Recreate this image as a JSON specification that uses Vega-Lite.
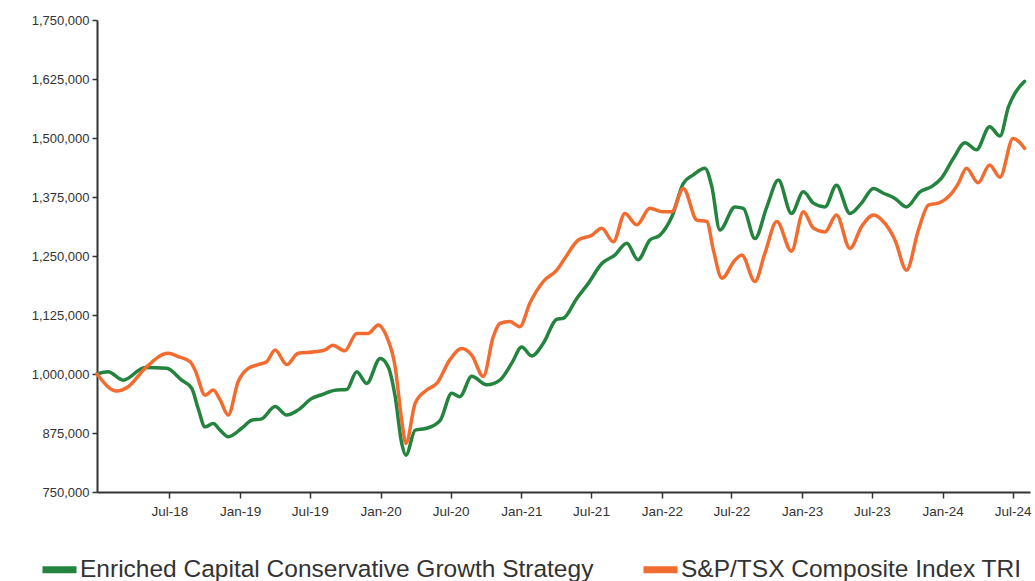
{
  "$schema": "https://vega.github.io/schema/vega-lite/v6.json",
  "width": 933,
  "height": 472,
  "autosize": {"type": "none"},
  "padding": {"left": 97, "top": 20, "right": 5, "bottom": 89},
  "background": "white",
  "config": {
    "view": {"stroke": null},
    "font": "Liberation Sans",
    "axis": {
      "domainColor": "#333333",
      "domainWidth": 2,
      "tickColor": "#333333",
      "tickWidth": 1.5,
      "tickSize": 6,
      "grid": false,
      "labelColor": "#333333",
      "labelFont": "Liberation Sans",
      "title": null
    }
  },
  "datasets": {
    "rows": [
      {"date": "2017-12-25", "series": "Enriched Capital Conservative Growth Strategy", "value": 1000000},
      {"date": "2018-01-23", "series": "Enriched Capital Conservative Growth Strategy", "value": 1005000},
      {"date": "2018-03-03", "series": "Enriched Capital Conservative Growth Strategy", "value": 987000},
      {"date": "2018-04-29", "series": "Enriched Capital Conservative Growth Strategy", "value": 1014000},
      {"date": "2018-06-24", "series": "Enriched Capital Conservative Growth Strategy", "value": 1012000},
      {"date": "2018-08-02", "series": "Enriched Capital Conservative Growth Strategy", "value": 987000},
      {"date": "2018-08-28", "series": "Enriched Capital Conservative Growth Strategy", "value": 970000},
      {"date": "2018-09-14", "series": "Enriched Capital Conservative Growth Strategy", "value": 927000},
      {"date": "2018-10-02", "series": "Enriched Capital Conservative Growth Strategy", "value": 888000},
      {"date": "2018-10-23", "series": "Enriched Capital Conservative Growth Strategy", "value": 895000},
      {"date": "2018-11-10", "series": "Enriched Capital Conservative Growth Strategy", "value": 881000},
      {"date": "2018-12-01", "series": "Enriched Capital Conservative Growth Strategy", "value": 867000},
      {"date": "2019-01-05", "series": "Enriched Capital Conservative Growth Strategy", "value": 885000},
      {"date": "2019-01-31", "series": "Enriched Capital Conservative Growth Strategy", "value": 902000},
      {"date": "2019-02-26", "series": "Enriched Capital Conservative Growth Strategy", "value": 905000},
      {"date": "2019-04-02", "series": "Enriched Capital Conservative Growth Strategy", "value": 931000},
      {"date": "2019-05-02", "series": "Enriched Capital Conservative Growth Strategy", "value": 913000},
      {"date": "2019-06-01", "series": "Enriched Capital Conservative Growth Strategy", "value": 924000},
      {"date": "2019-07-06", "series": "Enriched Capital Conservative Growth Strategy", "value": 948000},
      {"date": "2019-07-28", "series": "Enriched Capital Conservative Growth Strategy", "value": 955000},
      {"date": "2019-09-09", "series": "Enriched Capital Conservative Growth Strategy", "value": 966000},
      {"date": "2019-10-05", "series": "Enriched Capital Conservative Growth Strategy", "value": 967000},
      {"date": "2019-10-31", "series": "Enriched Capital Conservative Growth Strategy", "value": 1005000},
      {"date": "2019-11-26", "series": "Enriched Capital Conservative Growth Strategy", "value": 980000},
      {"date": "2019-12-31", "series": "Enriched Capital Conservative Growth Strategy", "value": 1033000},
      {"date": "2020-01-21", "series": "Enriched Capital Conservative Growth Strategy", "value": 1015000},
      {"date": "2020-02-08", "series": "Enriched Capital Conservative Growth Strategy", "value": 952000},
      {"date": "2020-02-25", "series": "Enriched Capital Conservative Growth Strategy", "value": 853000},
      {"date": "2020-03-07", "series": "Enriched Capital Conservative Growth Strategy", "value": 828000},
      {"date": "2020-03-31", "series": "Enriched Capital Conservative Growth Strategy", "value": 881000},
      {"date": "2020-04-30", "series": "Enriched Capital Conservative Growth Strategy", "value": 885000},
      {"date": "2020-06-04", "series": "Enriched Capital Conservative Growth Strategy", "value": 902000},
      {"date": "2020-07-04", "series": "Enriched Capital Conservative Growth Strategy", "value": 959000},
      {"date": "2020-07-25", "series": "Enriched Capital Conservative Growth Strategy", "value": 952000},
      {"date": "2020-08-25", "series": "Enriched Capital Conservative Growth Strategy", "value": 995000},
      {"date": "2020-10-03", "series": "Enriched Capital Conservative Growth Strategy", "value": 977000},
      {"date": "2020-11-06", "series": "Enriched Capital Conservative Growth Strategy", "value": 987000},
      {"date": "2020-12-07", "series": "Enriched Capital Conservative Growth Strategy", "value": 1023000},
      {"date": "2021-01-02", "series": "Enriched Capital Conservative Growth Strategy", "value": 1057000},
      {"date": "2021-01-28", "series": "Enriched Capital Conservative Growth Strategy", "value": 1038000},
      {"date": "2021-02-27", "series": "Enriched Capital Conservative Growth Strategy", "value": 1065000},
      {"date": "2021-04-03", "series": "Enriched Capital Conservative Growth Strategy", "value": 1116000},
      {"date": "2021-04-20", "series": "Enriched Capital Conservative Growth Strategy", "value": 1118000},
      {"date": "2021-05-25", "series": "Enriched Capital Conservative Growth Strategy", "value": 1160000},
      {"date": "2021-06-24", "series": "Enriched Capital Conservative Growth Strategy", "value": 1192000},
      {"date": "2021-07-29", "series": "Enriched Capital Conservative Growth Strategy", "value": 1234000},
      {"date": "2021-09-01", "series": "Enriched Capital Conservative Growth Strategy", "value": 1252000},
      {"date": "2021-10-02", "series": "Enriched Capital Conservative Growth Strategy", "value": 1277000},
      {"date": "2021-10-31", "series": "Enriched Capital Conservative Growth Strategy", "value": 1242000},
      {"date": "2021-12-01", "series": "Enriched Capital Conservative Growth Strategy", "value": 1284000},
      {"date": "2021-12-27", "series": "Enriched Capital Conservative Growth Strategy", "value": 1294000},
      {"date": "2022-01-27", "series": "Enriched Capital Conservative Growth Strategy", "value": 1333000},
      {"date": "2022-02-26", "series": "Enriched Capital Conservative Growth Strategy", "value": 1404000},
      {"date": "2022-03-24", "series": "Enriched Capital Conservative Growth Strategy", "value": 1422000},
      {"date": "2022-04-23", "series": "Enriched Capital Conservative Growth Strategy", "value": 1436000},
      {"date": "2022-05-11", "series": "Enriched Capital Conservative Growth Strategy", "value": 1397000},
      {"date": "2022-06-01", "series": "Enriched Capital Conservative Growth Strategy", "value": 1305000},
      {"date": "2022-07-10", "series": "Enriched Capital Conservative Growth Strategy", "value": 1354000},
      {"date": "2022-08-01", "series": "Enriched Capital Conservative Growth Strategy", "value": 1351000},
      {"date": "2022-08-31", "series": "Enriched Capital Conservative Growth Strategy", "value": 1287000},
      {"date": "2022-10-01", "series": "Enriched Capital Conservative Growth Strategy", "value": 1354000},
      {"date": "2022-10-31", "series": "Enriched Capital Conservative Growth Strategy", "value": 1411000},
      {"date": "2022-12-04", "series": "Enriched Capital Conservative Growth Strategy", "value": 1340000},
      {"date": "2023-01-04", "series": "Enriched Capital Conservative Growth Strategy", "value": 1386000},
      {"date": "2023-01-30", "series": "Enriched Capital Conservative Growth Strategy", "value": 1362000},
      {"date": "2023-03-01", "series": "Enriched Capital Conservative Growth Strategy", "value": 1354000},
      {"date": "2023-03-31", "series": "Enriched Capital Conservative Growth Strategy", "value": 1400000},
      {"date": "2023-05-05", "series": "Enriched Capital Conservative Growth Strategy", "value": 1340000},
      {"date": "2023-06-04", "series": "Enriched Capital Conservative Growth Strategy", "value": 1362000},
      {"date": "2023-07-05", "series": "Enriched Capital Conservative Growth Strategy", "value": 1393000},
      {"date": "2023-07-31", "series": "Enriched Capital Conservative Growth Strategy", "value": 1383000},
      {"date": "2023-08-30", "series": "Enriched Capital Conservative Growth Strategy", "value": 1372000},
      {"date": "2023-09-29", "series": "Enriched Capital Conservative Growth Strategy", "value": 1354000},
      {"date": "2023-11-03", "series": "Enriched Capital Conservative Growth Strategy", "value": 1386000},
      {"date": "2023-12-03", "series": "Enriched Capital Conservative Growth Strategy", "value": 1397000},
      {"date": "2023-12-29", "series": "Enriched Capital Conservative Growth Strategy", "value": 1415000},
      {"date": "2024-01-29", "series": "Enriched Capital Conservative Growth Strategy", "value": 1457000},
      {"date": "2024-02-28", "series": "Enriched Capital Conservative Growth Strategy", "value": 1490000},
      {"date": "2024-03-29", "series": "Enriched Capital Conservative Growth Strategy", "value": 1475000},
      {"date": "2024-05-02", "series": "Enriched Capital Conservative Growth Strategy", "value": 1524000},
      {"date": "2024-05-29", "series": "Enriched Capital Conservative Growth Strategy", "value": 1504000},
      {"date": "2024-06-20", "series": "Enriched Capital Conservative Growth Strategy", "value": 1566000},
      {"date": "2024-07-07", "series": "Enriched Capital Conservative Growth Strategy", "value": 1595000},
      {"date": "2024-08-01", "series": "Enriched Capital Conservative Growth Strategy", "value": 1620000},
      {"date": "2017-12-25", "series": "S&P/TSX Composite Index TRI", "value": 1000000},
      {"date": "2018-02-14", "series": "S&P/TSX Composite Index TRI", "value": 964000},
      {"date": "2018-03-16", "series": "S&P/TSX Composite Index TRI", "value": 973000},
      {"date": "2018-04-29", "series": "S&P/TSX Composite Index TRI", "value": 1012000},
      {"date": "2018-06-28", "series": "S&P/TSX Composite Index TRI", "value": 1044000},
      {"date": "2018-07-24", "series": "S&P/TSX Composite Index TRI", "value": 1037000},
      {"date": "2018-08-24", "series": "S&P/TSX Composite Index TRI", "value": 1026000},
      {"date": "2018-09-06", "series": "S&P/TSX Composite Index TRI", "value": 1008000},
      {"date": "2018-10-02", "series": "S&P/TSX Composite Index TRI", "value": 955000},
      {"date": "2018-10-23", "series": "S&P/TSX Composite Index TRI", "value": 966000},
      {"date": "2018-11-10", "series": "S&P/TSX Composite Index TRI", "value": 945000},
      {"date": "2018-12-01", "series": "S&P/TSX Composite Index TRI", "value": 913000},
      {"date": "2018-12-27", "series": "S&P/TSX Composite Index TRI", "value": 984000},
      {"date": "2019-01-22", "series": "S&P/TSX Composite Index TRI", "value": 1012000},
      {"date": "2019-02-17", "series": "S&P/TSX Composite Index TRI", "value": 1020000},
      {"date": "2019-03-11", "series": "S&P/TSX Composite Index TRI", "value": 1026000},
      {"date": "2019-04-02", "series": "S&P/TSX Composite Index TRI", "value": 1051000},
      {"date": "2019-05-02", "series": "S&P/TSX Composite Index TRI", "value": 1020000},
      {"date": "2019-06-01", "series": "S&P/TSX Composite Index TRI", "value": 1044000},
      {"date": "2019-07-15", "series": "S&P/TSX Composite Index TRI", "value": 1047000},
      {"date": "2019-08-10", "series": "S&P/TSX Composite Index TRI", "value": 1051000},
      {"date": "2019-08-30", "series": "S&P/TSX Composite Index TRI", "value": 1061000},
      {"date": "2019-09-30", "series": "S&P/TSX Composite Index TRI", "value": 1049000},
      {"date": "2019-10-31", "series": "S&P/TSX Composite Index TRI", "value": 1086000},
      {"date": "2019-11-30", "series": "S&P/TSX Composite Index TRI", "value": 1086000},
      {"date": "2019-12-26", "series": "S&P/TSX Composite Index TRI", "value": 1104000},
      {"date": "2020-01-17", "series": "S&P/TSX Composite Index TRI", "value": 1079000},
      {"date": "2020-02-08", "series": "S&P/TSX Composite Index TRI", "value": 1015000},
      {"date": "2020-02-25", "series": "S&P/TSX Composite Index TRI", "value": 902000},
      {"date": "2020-03-07", "series": "S&P/TSX Composite Index TRI", "value": 853000},
      {"date": "2020-03-31", "series": "S&P/TSX Composite Index TRI", "value": 938000},
      {"date": "2020-04-30", "series": "S&P/TSX Composite Index TRI", "value": 966000},
      {"date": "2020-05-26", "series": "S&P/TSX Composite Index TRI", "value": 980000},
      {"date": "2020-06-29", "series": "S&P/TSX Composite Index TRI", "value": 1030000},
      {"date": "2020-07-30", "series": "S&P/TSX Composite Index TRI", "value": 1054000},
      {"date": "2020-08-25", "series": "S&P/TSX Composite Index TRI", "value": 1040000},
      {"date": "2020-09-24", "series": "S&P/TSX Composite Index TRI", "value": 995000},
      {"date": "2020-10-20", "series": "S&P/TSX Composite Index TRI", "value": 1079000},
      {"date": "2020-11-06", "series": "S&P/TSX Composite Index TRI", "value": 1107000},
      {"date": "2020-12-02", "series": "S&P/TSX Composite Index TRI", "value": 1111000},
      {"date": "2020-12-28", "series": "S&P/TSX Composite Index TRI", "value": 1100000},
      {"date": "2021-01-23", "series": "S&P/TSX Composite Index TRI", "value": 1150000},
      {"date": "2021-02-27", "series": "S&P/TSX Composite Index TRI", "value": 1196000},
      {"date": "2021-04-03", "series": "S&P/TSX Composite Index TRI", "value": 1220000},
      {"date": "2021-04-24", "series": "S&P/TSX Composite Index TRI", "value": 1245000},
      {"date": "2021-05-29", "series": "S&P/TSX Composite Index TRI", "value": 1284000},
      {"date": "2021-07-03", "series": "S&P/TSX Composite Index TRI", "value": 1294000},
      {"date": "2021-07-29", "series": "S&P/TSX Composite Index TRI", "value": 1309000},
      {"date": "2021-08-28", "series": "S&P/TSX Composite Index TRI", "value": 1280000},
      {"date": "2021-09-27", "series": "S&P/TSX Composite Index TRI", "value": 1340000},
      {"date": "2021-10-28", "series": "S&P/TSX Composite Index TRI", "value": 1316000},
      {"date": "2021-12-01", "series": "S&P/TSX Composite Index TRI", "value": 1351000},
      {"date": "2022-01-01", "series": "S&P/TSX Composite Index TRI", "value": 1344000},
      {"date": "2022-01-27", "series": "S&P/TSX Composite Index TRI", "value": 1344000},
      {"date": "2022-02-26", "series": "S&P/TSX Composite Index TRI", "value": 1393000},
      {"date": "2022-04-02", "series": "S&P/TSX Composite Index TRI", "value": 1326000},
      {"date": "2022-04-28", "series": "S&P/TSX Composite Index TRI", "value": 1323000},
      {"date": "2022-05-15", "series": "S&P/TSX Composite Index TRI", "value": 1263000},
      {"date": "2022-06-06", "series": "S&P/TSX Composite Index TRI", "value": 1203000},
      {"date": "2022-07-10", "series": "S&P/TSX Composite Index TRI", "value": 1241000},
      {"date": "2022-07-28", "series": "S&P/TSX Composite Index TRI", "value": 1252000},
      {"date": "2022-08-31", "series": "S&P/TSX Composite Index TRI", "value": 1196000},
      {"date": "2022-09-26", "series": "S&P/TSX Composite Index TRI", "value": 1256000},
      {"date": "2022-10-27", "series": "S&P/TSX Composite Index TRI", "value": 1323000},
      {"date": "2022-12-04", "series": "S&P/TSX Composite Index TRI", "value": 1260000},
      {"date": "2023-01-04", "series": "S&P/TSX Composite Index TRI", "value": 1344000},
      {"date": "2023-01-30", "series": "S&P/TSX Composite Index TRI", "value": 1309000},
      {"date": "2023-03-01", "series": "S&P/TSX Composite Index TRI", "value": 1301000},
      {"date": "2023-03-31", "series": "S&P/TSX Composite Index TRI", "value": 1337000},
      {"date": "2023-05-05", "series": "S&P/TSX Composite Index TRI", "value": 1266000},
      {"date": "2023-06-04", "series": "S&P/TSX Composite Index TRI", "value": 1312000},
      {"date": "2023-07-05", "series": "S&P/TSX Composite Index TRI", "value": 1337000},
      {"date": "2023-08-04", "series": "S&P/TSX Composite Index TRI", "value": 1319000},
      {"date": "2023-08-30", "series": "S&P/TSX Composite Index TRI", "value": 1284000},
      {"date": "2023-09-29", "series": "S&P/TSX Composite Index TRI", "value": 1220000},
      {"date": "2023-10-30", "series": "S&P/TSX Composite Index TRI", "value": 1305000},
      {"date": "2023-11-25", "series": "S&P/TSX Composite Index TRI", "value": 1358000},
      {"date": "2023-12-21", "series": "S&P/TSX Composite Index TRI", "value": 1362000},
      {"date": "2024-01-20", "series": "S&P/TSX Composite Index TRI", "value": 1379000},
      {"date": "2024-02-11", "series": "S&P/TSX Composite Index TRI", "value": 1404000},
      {"date": "2024-03-03", "series": "S&P/TSX Composite Index TRI", "value": 1436000},
      {"date": "2024-04-02", "series": "S&P/TSX Composite Index TRI", "value": 1405000},
      {"date": "2024-05-02", "series": "S&P/TSX Composite Index TRI", "value": 1443000},
      {"date": "2024-05-29", "series": "S&P/TSX Composite Index TRI", "value": 1417000},
      {"date": "2024-07-02", "series": "S&P/TSX Composite Index TRI", "value": 1499000},
      {"date": "2024-08-01", "series": "S&P/TSX Composite Index TRI", "value": 1478000}
    ]
  },
  "data": {"name": "rows"},
  "mark": {"type": "line", "interpolate": "monotone", "strokeWidth": 3.5, "strokeJoin": "round", "strokeCap": "round", "clip": false},
  "encoding": {
    "x": {
      "field": "date",
      "type": "temporal",
      "scale": {
        "type": "utc",
        "domain": [
          {"year": 2017, "month": 12, "date": 25, "utc": true},
          {"year": 2024, "month": 8, "date": 15, "utc": true}
        ],
        "nice": false
      },
      "axis": {
        "values": [
          {"year": 2018, "month": 7, "date": 1, "utc": true},
          {"year": 2019, "month": 1, "date": 1, "utc": true},
          {"year": 2019, "month": 7, "date": 1, "utc": true},
          {"year": 2020, "month": 1, "date": 1, "utc": true},
          {"year": 2020, "month": 7, "date": 1, "utc": true},
          {"year": 2021, "month": 1, "date": 1, "utc": true},
          {"year": 2021, "month": 7, "date": 1, "utc": true},
          {"year": 2022, "month": 1, "date": 1, "utc": true},
          {"year": 2022, "month": 7, "date": 1, "utc": true},
          {"year": 2023, "month": 1, "date": 1, "utc": true},
          {"year": 2023, "month": 7, "date": 1, "utc": true},
          {"year": 2024, "month": 1, "date": 1, "utc": true},
          {"year": 2024, "month": 7, "date": 1, "utc": true}
        ],
        "labelExpr": "utcFormat(datum.value, '%b-%y')",
        "labelFontSize": 13.5,
        "labelPadding": 6,
        "labelFlush": false,
        "labelOverlap": false
      }
    },
    "y": {
      "field": "value",
      "type": "quantitative",
      "scale": {"domain": [750000, 1750000], "nice": false, "zero": false},
      "axis": {
        "values": [750000, 875000, 1000000, 1125000, 1250000, 1375000, 1500000, 1625000, 1750000],
        "format": ",.0f",
        "labelFontSize": 13,
        "labelPadding": 3,
        "tickSize": 5
      }
    },
    "color": {
      "field": "series",
      "type": "nominal",
      "scale": {
        "domain": ["Enriched Capital Conservative Growth Strategy", "S&P/TSX Composite Index TRI"],
        "range": ["#24843f", "#f36c2f"]
      },
      "legend": {
        "title": null,
        "orient": "none",
        "direction": "horizontal",
        "legendX": -58,
        "legendY": 529,
        "symbolType": "stroke",
        "symbolSize": 1156,
        "symbolStrokeWidth": 7,
        "labelFontSize": 24.5,
        "labelFont": "Liberation Sans",
        "labelColor": "#333333",
        "labelOffset": 0,
        "labelLimit": 0,
        "columnPadding": 35
      }
    }
  }
}
